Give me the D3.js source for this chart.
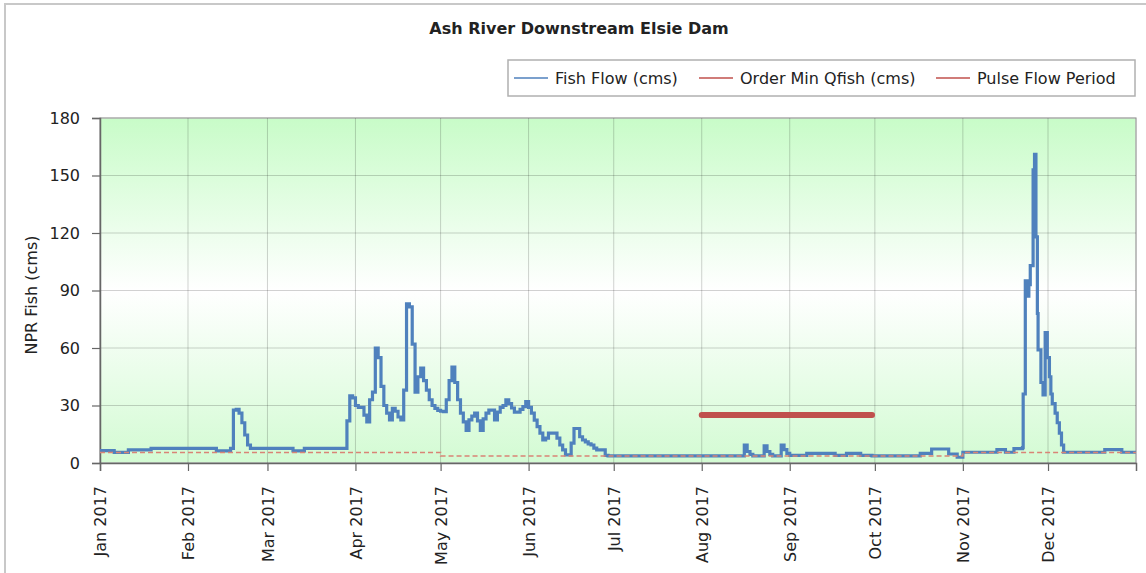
<!DOCTYPE html>
<html>
<head>
<meta charset="utf-8">
<script src="https://cdn.jsdelivr.net/npm/d3@7"></script>
<style>
  html, body { margin: 0; padding: 0; background: #fff; }
  svg { display: block; }
  text { font-family: "DejaVu Sans", sans-serif; fill: #222; }
</style>
</head>
<body>
<svg id="chart" width="1146" height="573"></svg>
<script>
// Fish flow at Ash River below Elsie Dam, 2017 (step series: value holds until next change)
const flowTimes = [
  "2017-01-01", "2017-01-06", "2017-01-11", "2017-01-19", "2017-02-11", "2017-02-16",
  "2017-02-17", "2017-02-18", "2017-02-19", "2017-02-20", "2017-02-21", "2017-02-22",
  "2017-02-23", "2017-03-10", "2017-03-14", "2017-03-29", "2017-03-30", "2017-03-31",
  "2017-04-01", "2017-04-02", "2017-04-04", "2017-04-05", "2017-04-06", "2017-04-07",
  "2017-04-08", "2017-04-09", "2017-04-10", "2017-04-11", "2017-04-12", "2017-04-13",
  "2017-04-14", "2017-04-15", "2017-04-16", "2017-04-17", "2017-04-18", "2017-04-19",
  "2017-04-20", "2017-04-21", "2017-04-22", "2017-04-23", "2017-04-24", "2017-04-25",
  "2017-04-26", "2017-04-27", "2017-04-28", "2017-04-29", "2017-04-30",
  "2017-05-01", "2017-05-02", "2017-05-03", "2017-05-04", "2017-05-05", "2017-05-06",
  "2017-05-07", "2017-05-08", "2017-05-09", "2017-05-10", "2017-05-11", "2017-05-12",
  "2017-05-13", "2017-05-14", "2017-05-15", "2017-05-16", "2017-05-17", "2017-05-18",
  "2017-05-20", "2017-05-21", "2017-05-22", "2017-05-23", "2017-05-24", "2017-05-25",
  "2017-05-26", "2017-05-27", "2017-05-29", "2017-05-30", "2017-05-31",
  "2017-06-01", "2017-06-02", "2017-06-03", "2017-06-04", "2017-06-05", "2017-06-06",
  "2017-06-07", "2017-06-08", "2017-06-11", "2017-06-12", "2017-06-13", "2017-06-14",
  "2017-06-16", "2017-06-17", "2017-06-19", "2017-06-20", "2017-06-21", "2017-06-22",
  "2017-06-23", "2017-06-24", "2017-06-25", "2017-06-28", "2017-06-29",
  "2017-08-16", "2017-08-17", "2017-08-18", "2017-08-19", "2017-08-23", "2017-08-24",
  "2017-08-25", "2017-08-26", "2017-08-29", "2017-08-30", "2017-08-31",
  "2017-09-01", "2017-09-07", "2017-09-17", "2017-09-21", "2017-09-26", "2017-09-30",
  "2017-10-17", "2017-10-21", "2017-10-27", "2017-10-30",
  "2017-11-01", "2017-11-13", "2017-11-16", "2017-11-19", "2017-11-22",
  "2017-11-22T06:00", "2017-11-23T00:00", "2017-11-23T18:00", "2017-11-24T06:00",
  "2017-11-24T18:00", "2017-11-25T18:00", "2017-11-26T06:00", "2017-11-26T18:00",
  "2017-11-27T06:00", "2017-11-27T12:00", "2017-11-28T12:00", "2017-11-29T06:00",
  "2017-11-30T00:00", "2017-11-30T18:00", "2017-12-01T12:00", "2017-12-02T00:00",
  "2017-12-02T12:00", "2017-12-03T12:00", "2017-12-04T06:00", "2017-12-05T00:00",
  "2017-12-05T18:00", "2017-12-06T12:00", "2017-12-21", "2017-12-27", "2018-01-01"
];
const flowCms = [
  6.5, 5.5, 6.8, 7.6, 6.3, 7.6,
  27.6, 28, 26, 21, 14.6, 9.4,
  7.6, 6.3, 7.6, 22, 35, 34,
  30, 29, 25, 21.5, 33, 37,
  60, 55, 40, 30, 26, 22.5,
  28.5, 27, 24, 22.5, 38, 83,
  81.5, 62, 37, 45, 49.5, 43,
  38, 33, 30, 28.5, 27.5,
  27, 26.8, 33, 43, 50, 42,
  33, 26, 21.5, 17, 22.5, 24.5,
  26, 22, 17, 23, 26, 27.6,
  22.5, 26.5, 29, 30, 33, 31,
  28.7, 26.5, 28, 29.4, 32,
  29, 26, 22.4, 19, 15.6, 12,
  13, 15.6, 13, 9.4, 6.8, 4.2,
  10.4, 18, 13.7, 12, 11, 10,
  9.4, 7.8, 6.8, 4, 3.7,
  9.4, 6, 4.5, 3.7, 9, 6,
  4.5, 3.7, 9.4, 7, 5,
  4, 5, 4, 5, 4, 3.7,
  5, 7.3, 4.7, 3,
  5.6, 7, 5.6, 7.5, 8,
  36, 95, 87, 93,
  103, 153, 161, 118,
  78, 59, 42, 35.5,
  68, 55, 45, 36,
  31, 26, 21, 15.6,
  9.4, 5.6, 7, 5.6, 5.6
];

// Order minimum Qfish (step series)
const minTimes = ["2017-01-01", "2017-05-01", "2017-11-01", "2018-01-01"];
const minCms = [5.5, 3.7, 5.5, 5.5];

// Pulse flow period
const pulseTimes = ["2017-08-01", "2017-09-30"];
const pulseCms = [25, 25];

const yTicks = [0, 30, 60, 90, 120, 150, 180];
const seriesNames = ["Fish Flow (cms)", "Order Min Qfish (cms)", "Pulse Flow Period"];
const seriesColors = ["#4f81bd", "#c0504d", "#c0504d"];
const chartTitle = "Ash River Downstream Elsie Dam";
const yTitle = "NPR Fish (cms)";

const parseDay = d3.timeParse("%Y-%m-%d");
const parseHour = d3.timeParse("%Y-%m-%dT%H:%M");
const parse = s => (s.length > 10 ? parseHour(s) : parseDay(s));
const toPoints = (ts, vs) => ts.map((t, i) => ({ t: parse(t), v: vs[i] }));

const flow = toPoints(flowTimes, flowCms);
const minFlow = toPoints(minTimes, minCms);
const pulse = toPoints(pulseTimes, pulseCms);

const svg = d3.select("#chart");
const W = 1146, H = 573;
const plot = { left: 100, right: 1136, top: 118, bottom: 463 };
const FONT = "'DejaVu Sans', sans-serif";

// Outer panel frame
svg.append("rect")
  .attr("x", 5).attr("y", 4).attr("width", W + 20).attr("height", H + 20)
  .attr("fill", "#fff").attr("stroke", "#c8c8c8").attr("stroke-width", 2);

const x = d3.scaleTime()
  .domain([parse("2017-01-01"), parse("2018-01-01")])
  .range([plot.left, plot.right]);
const y = d3.scaleLinear().domain([0, 180]).range([plot.bottom, plot.top]);

// Plot background gradient
const defs = svg.append("defs");
const grad = defs.append("linearGradient").attr("id", "bg")
  .attr("x1", 0).attr("y1", 0).attr("x2", 0).attr("y2", 1);
grad.append("stop").attr("offset", "0%").attr("stop-color", "#c8fcc8");
grad.append("stop").attr("offset", "50%").attr("stop-color", "#ffffff");
grad.append("stop").attr("offset", "100%").attr("stop-color", "#d3fbd3");

svg.append("rect")
  .attr("x", plot.left).attr("y", plot.top)
  .attr("width", plot.right - plot.left).attr("height", plot.bottom - plot.top)
  .attr("fill", "url(#bg)")
  .attr("stroke", "#c4c4c4").attr("stroke-width", 1.5);

// Grid lines
const months = x.ticks(d3.timeMonth.every(1));
svg.append("g").selectAll("line").data(months).join("line")
  .attr("x1", d => x(d)).attr("x2", d => x(d))
  .attr("y1", plot.top).attr("y2", plot.bottom)
  .attr("stroke", "rgba(0,0,0,0.18)").attr("stroke-width", 1);
svg.append("g").selectAll("line").data(yTicks).join("line")
  .attr("x1", plot.left).attr("x2", plot.right)
  .attr("y1", d => y(d)).attr("y2", d => y(d))
  .attr("stroke", "rgba(0,0,0,0.18)").attr("stroke-width", 1);

// Axes
const yAxis = svg.append("g").attr("transform", `translate(${plot.left},0)`)
  .call(d3.axisLeft(y).tickValues(yTicks).tickSize(8).tickPadding(12));
const xAxis = svg.append("g").attr("transform", `translate(0,${plot.bottom})`)
  .call(d3.axisBottom(x).ticks(d3.timeMonth.every(1)).tickFormat(d3.timeFormat("%b %Y")).tickSize(8));

[yAxis, xAxis].forEach(g => {
  g.select(".domain").attr("stroke", "#666").attr("stroke-width", 1.5);
  g.selectAll(".tick line").attr("stroke", "#666").attr("stroke-width", 1.2);
  g.selectAll("text").attr("font-size", 16).attr("fill", "#222").attr("font-family", FONT);
});
xAxis.selectAll(".tick text")
  .attr("transform", "rotate(-90)")
  .attr("x", -23).attr("y", 0).attr("dy", "0.35em")
  .attr("text-anchor", "end");
xAxis.selectAll(".tick").filter(d => +d === +x.domain()[1]).remove();

// Series
const stepLine = d3.line().x(d => x(d.t)).y(d => y(d.v)).curve(d3.curveStepAfter);

svg.append("path").datum(flow)
  .attr("d", stepLine).attr("fill", "none")
  .attr("stroke", seriesColors[0]).attr("stroke-width", 3.2);

svg.append("path").datum(minFlow)
  .attr("d", stepLine).attr("fill", "none")
  .attr("stroke", "#d98476").attr("stroke-width", 1.5)
  .attr("stroke-dasharray", "5,3");

svg.append("path").datum(pulse)
  .attr("d", d3.line().x(d => x(d.t)).y(d => y(d.v)))
  .attr("fill", "none")
  .attr("stroke", seriesColors[2]).attr("stroke-width", 6)
  .attr("stroke-linecap", "round");

// Title
svg.append("text")
  .attr("x", 579).attr("y", 34)
  .attr("text-anchor", "middle")
  .attr("font-size", 16).attr("font-weight", "bold")
  .text(chartTitle);

// Y axis title
svg.append("text")
  .attr("transform", "translate(37,295) rotate(-90)")
  .attr("text-anchor", "middle")
  .attr("font-size", 16)
  .text(yTitle);

// Legend
const legend = svg.append("g");
legend.append("rect")
  .attr("x", 508).attr("y", 60).attr("width", 627).attr("height", 36)
  .attr("fill", "#fff").attr("stroke", "#b0b0b0").attr("stroke-width", 1.5);
const legendX = [514, 699, 936];
seriesNames.forEach((name, i) => {
  const g = legend.append("g").attr("transform", `translate(${legendX[i]},78)`);
  g.append("line").attr("x1", 0).attr("x2", 34).attr("y1", 0).attr("y2", 0)
    .attr("stroke", seriesColors[i]).attr("stroke-width", 1.5);
  g.append("text").attr("x", 41).attr("y", 0).attr("dy", "0.35em")
    .attr("font-size", 16).text(name);
});
</script>
</body>
</html>
